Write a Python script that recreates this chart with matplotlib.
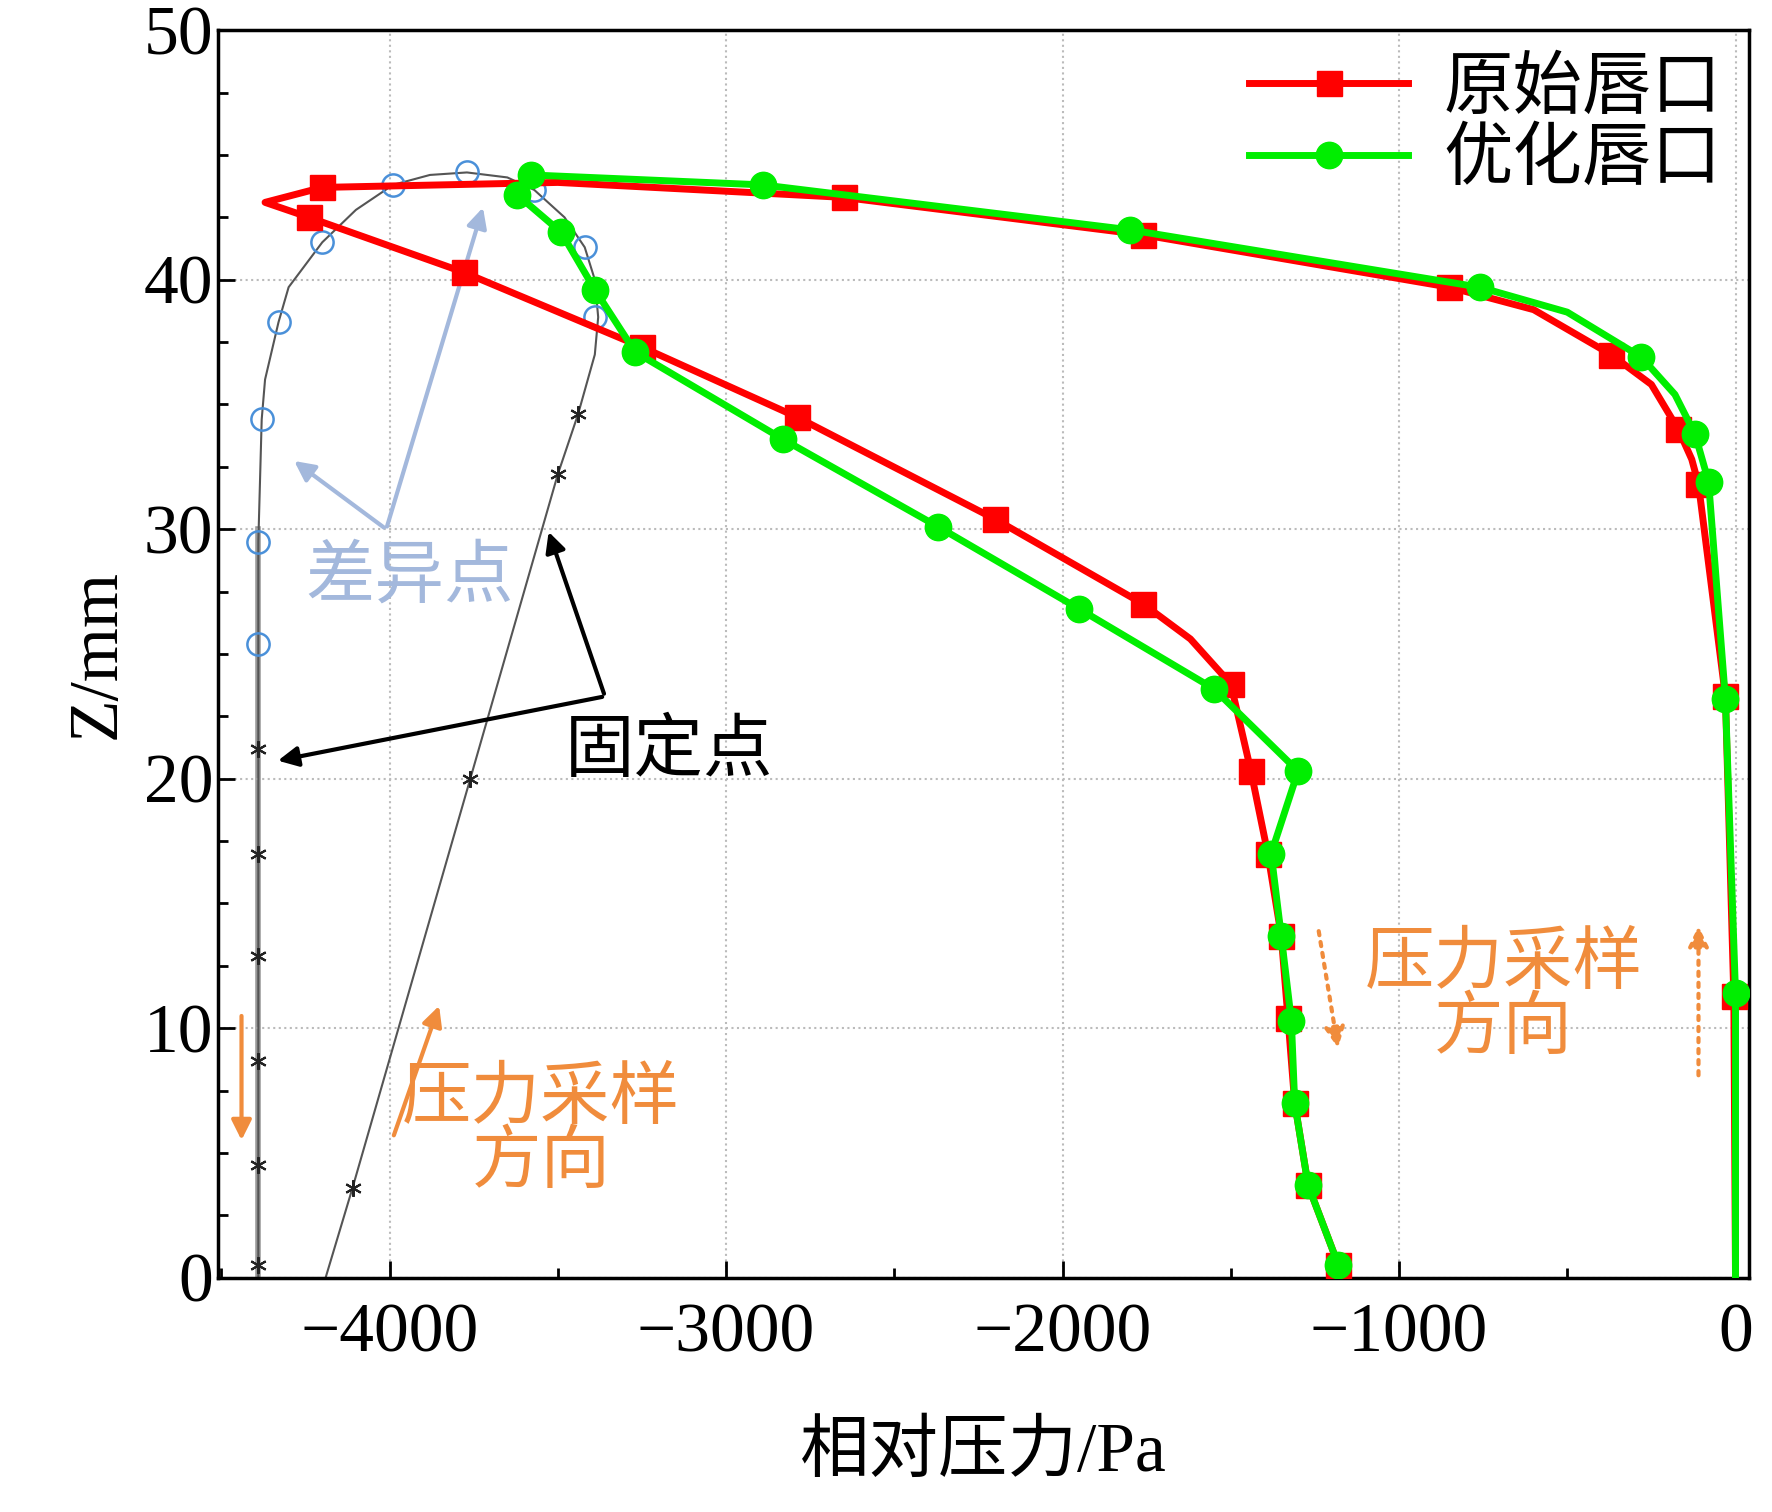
import matplotlib
matplotlib.use("Agg")
import matplotlib.pyplot as plt
from matplotlib.lines import Line2D
from matplotlib.ticker import MultipleLocator

plt.rcParams["font.family"] = ["Liberation Serif", "Noto Sans CJK SC", "DejaVu Sans"]

# 原始唇口 (曲线)
red_p = [-1180, -1270, -1310, -1330, -1350, -1390, -1440, -1500, -1620, -1760, -2200, -2790, -3250, -3780,
         -4240, -4370, -4200, -3500, -2650, -1760, -850, -600, -370, -250, -170, -130, -110, -30, -5, 0]
red_z = [0.5, 3.7, 7.0, 10.4, 13.7, 17.0, 20.3, 23.8, 25.6, 27.0, 30.4, 34.5, 37.3, 40.3,
         42.5, 43.1, 43.7, 43.9, 43.3, 41.8, 39.7, 38.8, 37.0, 35.8, 34.0, 32.8, 31.8, 23.3, 11.3, 0]
# 原始唇口 (标记点)
red_mp = [-1180, -1270, -1310, -1330, -1350, -1390, -1440, -1500, -1760, -2200, -2790, -3250, -3780,
          -4240, -4200, -2650, -1760, -850, -370, -170, -110, -30, -5]
red_mz = [0.5, 3.7, 7.0, 10.4, 13.7, 17.0, 20.3, 23.8, 27.0, 30.4, 34.5, 37.3, 40.3,
          42.5, 43.7, 43.3, 41.8, 39.7, 37.0, 34.0, 31.8, 23.3, 11.3]

# 优化唇口
grn_p = [-1180, -1270, -1310, -1320, -1350, -1380, -1300, -1550, -1950, -2370, -2830, -3270, -3390, -3490,
         -3620, -3580, -2890, -1800, -760, -500, -280, -180, -120, -80, -30, 0, 0]
grn_z = [0.5, 3.7, 7.0, 10.3, 13.7, 17.0, 20.3, 23.6, 26.8, 30.1, 33.6, 37.1, 39.6, 41.9,
         43.4, 44.2, 43.8, 42.0, 39.7, 38.7, 36.9, 35.4, 33.8, 31.9, 23.2, 11.4, 0]
grn_mp = [-1180, -1270, -1310, -1320, -1350, -1380, -1300, -1550, -1950, -2370, -2830, -3270, -3390, -3490,
          -3620, -3580, -2890, -1800, -760, -280, -120, -80, -30, 0]
grn_mz = [0.5, 3.7, 7.0, 10.3, 13.7, 17.0, 20.3, 23.6, 26.8, 30.1, 33.6, 37.1, 39.6, 41.9,
          43.4, 44.2, 43.8, 42.0, 39.7, 36.9, 33.8, 31.9, 23.2, 11.4]

# 灰色参考曲线
gray_p = [-4190, -4110, -3760, -3500, -3440, -3390, -3380, -3390, -3420, -3480, -3570, -3650, -3770, -3880,
          -3990, -4100, -4200, -4300, -4330, -4370, -4380, -4390, -4390, -4390, -4390]
gray_z = [0, 3.6, 20, 32.2, 34.6, 37.0, 38.5, 40.0, 41.3, 42.5, 43.6, 44.1, 44.3, 44.2,
          43.8, 42.8, 41.5, 39.7, 38.3, 36.0, 34.4, 29.5, 25.4, 10, 0]
circ_p = [-4390, -4390, -4380, -4330, -4200, -3990, -3770, -3570, -3420, -3390]
circ_z = [25.4, 29.5, 34.4, 38.3, 41.5, 43.8, 44.3, 43.6, 41.3, 38.5]
star_p = [-4390] * 6 + [-3440, -3500, -3760, -4110]
star_z = [0.5, 4.5, 8.7, 12.9, 17.0, 21.2, 34.6, 32.2, 20.0, 3.6]

fig = plt.figure(figsize=(17.72, 15.12), dpi=100)
ax = fig.add_axes([0.123, 0.155, 0.864, 0.825])

ax.plot(gray_p, gray_z, color="#555555", lw=1.5, zorder=2)
ax.plot([-4390, -4390], [0, 30], color="#999999", lw=4, zorder=1)
ax.plot(circ_p, circ_z, ls="none", marker="o", ms=16, mfc="none", mec="#4a90d9", mew=1.8, zorder=3)
ax.plot(star_p, star_z, ls="none", marker=(6, 2, 0), ms=12, color="#222222", mew=1.5, zorder=3)

ax.plot(red_p, red_z, color="#ff0000", lw=5, zorder=4)
ax.plot(red_mp, red_mz, ls="none", color="#ff0000", marker="s", ms=18, zorder=4)
ax.plot(grn_p, grn_z, color="#00ee00", lw=5, zorder=5)
ax.plot(grn_mp, grn_mz, ls="none", color="#00ee00", marker="o", ms=19, zorder=5)

ax.set_xlim(-4510, 40)
ax.set_ylim(0, 50)
ax.xaxis.set_major_locator(MultipleLocator(1000))
ax.xaxis.set_minor_locator(MultipleLocator(500))
ax.yaxis.set_major_locator(MultipleLocator(10))
ax.yaxis.set_minor_locator(MultipleLocator(2.5))
ax.tick_params(which="both", direction="in", labelsize=50, width=2, top=False, right=False)
ax.tick_params(which="major", length=12)
ax.tick_params(which="minor", length=7)
ax.tick_params(axis="x", pad=18)
for s in ax.spines.values():
    s.set_linewidth(2.5)
ax.grid(True, color="#bbbbbb", ls=":", lw=1.5)
ax.set_xlabel("相对压力/Pa", fontsize=50, labelpad=40)
ax.set_ylabel("Z/mm", fontsize=50, labelpad=10)

handles = [Line2D([], [], color="#ff0000", lw=5, marker="s", ms=18),
           Line2D([], [], color="#00ee00", lw=5, marker="o", ms=19)]
ax.legend(handles, ["原始唇口", "优化唇口"], loc="upper right", fontsize=50, frameon=False,
          handlelength=2.3, borderaxespad=0.0, labelspacing=0.1, handletextpad=0.5)

arrow = dict(arrowstyle="-|>,head_width=0.6,head_length=1.2", lw=3)
lb = "#a3b8dc"
ax.text(-4250, 28, "差异点", fontsize=50, color=lb, ha="left", va="center")
ax.annotate("", xy=(-3720, 43), xytext=(-4010, 30), arrowprops=dict(arrow, color=lb))
ax.annotate("", xy=(-4290, 32.8), xytext=(-4010, 30), arrowprops=dict(arrow, color=lb))

ax.text(-3170, 21, "固定点", fontsize=50, color="black", ha="center", va="center")
ax.annotate("", xy=(-4340, 20.7), xytext=(-3360, 23.3), arrowprops=dict(arrow, color="black"))
ax.annotate("", xy=(-3530, 30), xytext=(-3360, 23.3), arrowprops=dict(arrow, color="black"))

og = "#f08c3c"
ax.text(-3550, 5.8, "压力采样\n方向", fontsize=50, color=og, ha="center", va="center", linespacing=1.0)
ax.annotate("", xy=(-3850, 11), xytext=(-3990, 5.6), arrowprops=dict(arrow, color=og))
ax.annotate("", xy=(-4440, 5.4), xytext=(-4440, 10.6), arrowprops=dict(arrow, color=og))
ax.text(-690, 11.2, "压力采样\n方向", fontsize=50, color=og, ha="center", va="center", linespacing=1.0)
ax.annotate("", xy=(-1180, 9.1), xytext=(-1240, 14), arrowprops=dict(arrow, color=og, ls=":"))
ax.annotate("", xy=(-110, 14.2), xytext=(-110, 8), arrowprops=dict(arrow, color=og, ls=":"))

fig.savefig("out.png", dpi=100)
